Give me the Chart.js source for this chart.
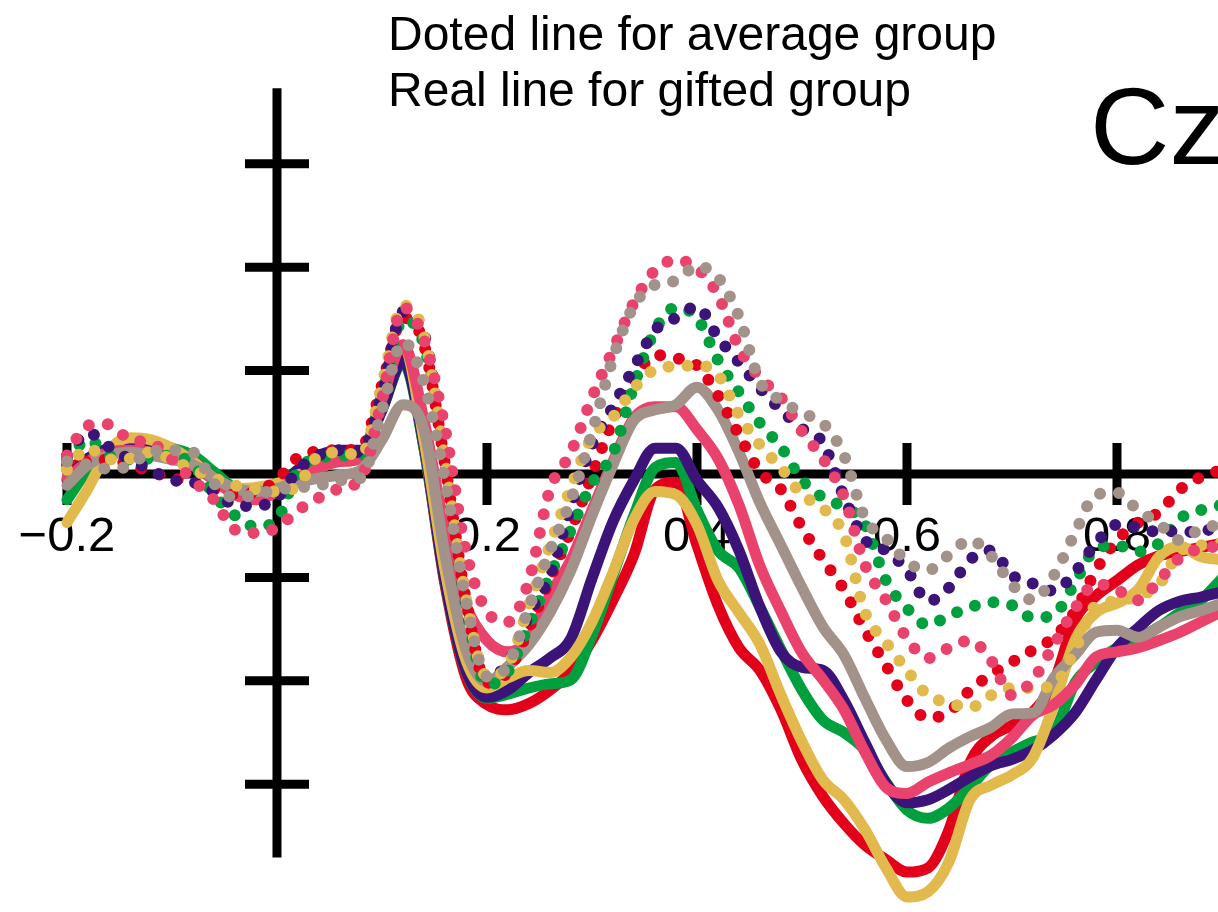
<!DOCTYPE html>
<html>
<head>
<meta charset="utf-8">
<title>Cz</title>
<script src="https://cdn.jsdelivr.net/npm/chart.js@4"></script>
<style>
  html, body { margin: 0; padding: 0; background: #fff; }
  #wrap { width: 1218px; height: 912px; }
</style>
</head>
<body>
<div id="wrap"><canvas id="czChart" width="1218" height="912"></canvas></div>
<script>
// time in s, amplitude in uV (one y tick = 1 uV)
var times = [-0.20, -0.18, -0.16, -0.14, -0.12, -0.10, -0.08, -0.06, -0.04, -0.02,
  0.00, 0.02, 0.04, 0.06, 0.08, 0.10, 0.12, 0.14, 0.16, 0.18,
  0.20, 0.22, 0.24, 0.26, 0.28, 0.30, 0.32, 0.34, 0.36, 0.38,
  0.40, 0.42, 0.44, 0.46, 0.48, 0.50, 0.52, 0.54, 0.56, 0.58,
  0.60, 0.62, 0.64, 0.66, 0.68, 0.70, 0.72, 0.74, 0.76, 0.78,
  0.80, 0.82, 0.84, 0.86, 0.88, 0.90];

// gifted group (real lines)
var giftedRed = [0.04, 0.15, 0.23, 0.25, 0.23, 0.18, 0.12, -0.04, -0.15, -0.17,
  -0.14, -0.01, 0.09, 0.15, 0.18, 0.72, 1.20, 0.25, -1.07, -1.97,
  -2.23, -2.28, -2.22, -2.09, -1.91, -1.61, -1.22, -0.78, -0.15, -0.08,
  -0.69, -1.27, -1.68, -1.90, -2.28, -2.77, -3.12, -3.38, -3.59, -3.73,
  -3.85, -3.81, -3.44, -2.79, -2.54, -2.43, -2.30, -2.01, -1.41, -1.18,
  -1.03, -0.88, -0.79, -0.75, -0.71, -0.67];
var giftedGreen = [-0.25, 0.04, 0.21, 0.28, 0.28, 0.25, 0.18, 0.02, -0.14, -0.20,
  -0.11, 0.04, 0.14, 0.18, 0.21, 0.62, 1.08, 0.25, -1.04, -1.91,
  -2.17, -2.13, -2.07, -2.03, -1.99, -1.56, -0.98, -0.40, 0.06, 0.11,
  -0.35, -0.74, -0.91, -1.29, -1.70, -2.09, -2.38, -2.50, -2.67, -2.98,
  -3.25, -3.33, -3.23, -3.03, -2.81, -2.69, -2.59, -2.50, -2.02, -1.82,
  -1.68, -1.59, -1.48, -1.34, -1.22, -1.01];
var giftedGold = [-0.47, -0.14, 0.23, 0.35, 0.33, 0.25, 0.12, -0.04, -0.14, -0.13,
  -0.09, -0.01, 0.06, 0.12, 0.15, 0.76, 1.25, 0.33, -0.93, -1.80,
  -2.07, -1.97, -1.90, -1.92, -1.77, -1.43, -0.95, -0.44, -0.17, -0.20,
  -0.49, -1.03, -1.34, -1.65, -2.14, -2.59, -2.96, -3.15, -3.44, -3.81,
  -4.09, -4.04, -3.75, -3.15, -3.01, -2.91, -2.74, -2.23, -1.61, -1.34,
  -1.25, -1.12, -0.80, -0.70, -0.80, -0.83];
var giftedPurple = [-0.06, 0.15, 0.25, 0.28, 0.25, 0.18, 0.12, -0.04, -0.17, -0.20,
  -0.14, 0.04, 0.18, 0.23, 0.23, 0.62, 1.10, 0.28, -1.03, -1.90,
  -2.16, -2.09, -1.92, -1.78, -1.59, -1.01, -0.46, -0.06, 0.25, 0.25,
  -0.06, -0.32, -0.74, -1.29, -1.72, -1.87, -1.90, -2.19, -2.60, -2.99,
  -3.18, -3.15, -3.05, -2.93, -2.82, -2.76, -2.67, -2.52, -2.31, -1.99,
  -1.68, -1.49, -1.32, -1.23, -1.19, -1.14];
var giftedPink = [-0.04, 0.12, 0.21, 0.23, 0.21, 0.15, 0.08, -0.06, -0.20, -0.25,
  -0.17, -0.04, 0.06, 0.12, 0.15, 0.72, 1.25, 0.52, -0.54, -1.27,
  -1.61, -1.72, -1.59, -1.17, -0.83, -0.35, 0.12, 0.54, 0.65, 0.65,
  0.43, 0.15, -0.30, -0.89, -1.33, -1.73, -1.99, -2.28, -2.69, -3.03,
  -3.09, -2.98, -2.89, -2.81, -2.72, -2.55, -2.33, -2.23, -2.04, -1.77,
  -1.72, -1.68, -1.61, -1.53, -1.43, -1.33];
var giftedGray = [-0.11, 0.09, 0.18, 0.21, 0.18, 0.14, 0.09, -0.04, -0.14, -0.17,
  -0.14, -0.08, -0.04, -0.01, 0.04, 0.33, 0.67, 0.43, -0.78, -1.70,
  -2.01, -1.86, -1.65, -1.34, -0.93, -0.40, 0.09, 0.52, 0.62, 0.67,
  0.84, 0.62, 0.21, -0.28, -0.69, -1.10, -1.48, -1.75, -2.17, -2.57,
  -2.83, -2.79, -2.65, -2.54, -2.45, -2.32, -2.31, -1.97, -1.75, -1.53,
  -1.51, -1.58, -1.48, -1.38, -1.32, -1.25];

// average group (dotted lines)
var averageRed = [0.09, 0.12, 0.14, 0.09, 0.02, -0.04, -0.08, -0.15, -0.20, -0.17,
  -0.06, 0.16, 0.22, 0.23, 0.25, 0.86, 1.51, 1.25, 0.09, -1.22,
  -2.02, -1.91, -1.49, -1.01, -0.54, -0.01, 0.52, 0.91, 1.15, 1.12,
  1.05, 0.76, 0.38, 0.02, -0.15, -0.52, -0.83, -1.12, -1.51, -1.85,
  -2.19, -2.36, -2.30, -2.09, -1.94, -1.82, -1.70, -1.58, -1.33, -0.93,
  -0.64, -0.47, -0.37, -0.15, -0.03, 0.04];
var averageGreen = [0.14, 0.33, 0.18, 0.14, 0.15, 0.18, 0.09, -0.20, -0.40, -0.51,
  -0.44, 0.04, 0.15, 0.18, 0.18, 0.76, 1.49, 1.25, 0.09, -1.27,
  -2.04, -1.91, -1.46, -0.98, -0.54, -0.09, 0.20, 0.86, 1.39, 1.61,
  1.51, 1.10, 0.79, 0.49, 0.26, -0.06, -0.23, -0.32, -0.49, -1.03,
  -1.30, -1.46, -1.37, -1.29, -1.24, -1.27, -1.39, -1.36, -1.05, -0.72,
  -0.69, -0.75, -0.67, -0.43, -0.35, -0.30];
var averageGold = [0.04, 0.25, 0.14, 0.15, 0.21, 0.14, 0.04, -0.04, -0.11, -0.15,
  -0.17, -0.11, 0.18, 0.21, 0.18, 0.86, 1.63, 1.34, 0.14, -1.20,
  -1.96, -1.85, -1.27, -0.69, -0.13, 0.36, 0.55, 0.83, 1.01, 1.04,
  1.05, 0.96, 0.57, 0.28, 0.06, -0.20, -0.33, -0.59, -1.34, -1.63,
  -1.90, -2.14, -2.21, -2.26, -2.14, -2.07, -2.07, -2.04, -1.70, -1.27,
  -1.23, -1.18, -1.07, -0.75, -0.69, -0.67];
var averagePurple = [0.18, 0.40, 0.26, 0.14, 0.04, -0.06, -0.08, -0.17, -0.30, -0.31,
  -0.23, 0.04, 0.18, 0.23, 0.21, 0.76, 1.57, 1.36, 0.12, -1.22,
  -1.96, -1.83, -1.36, -0.98, -0.30, 0.28, 0.65, 1.03, 1.39, 1.51,
  1.62, 1.32, 1.08, 0.83, 0.62, 0.44, 0.30, -0.22, -0.64, -0.74,
  -0.93, -1.23, -1.10, -0.83, -0.74, -0.98, -1.06, -1.13, -0.95, -0.67,
  -0.49, -0.52, -0.56, -0.55, -0.57, -0.43];
var averagePink = [0.18, 0.47, 0.48, 0.33, 0.30, 0.14, -0.06, -0.25, -0.54, -0.57,
  -0.52, -0.35, -0.23, -0.14, -0.04, 0.72, 1.61, 1.30, 0.44, -0.75,
  -1.33, -1.43, -1.03, -0.15, 0.21, 0.74, 1.20, 1.66, 1.97, 2.07,
  1.99, 1.73, 1.22, 0.93, 0.74, 0.41, 0.15, -0.22, -0.88, -1.22,
  -1.59, -1.78, -1.68, -1.61, -1.80, -2.14, -1.99, -1.65, -1.30, -1.06,
  -1.12, -1.22, -1.03, -0.81, -0.72, -0.70];
var averageGray = [0.12, 0.09, 0.05, 0.08, 0.22, 0.23, 0.21, -0.09, -0.23, -0.20,
  -0.15, -0.13, -0.11, -0.06, -0.04, 0.62, 1.28, 0.88, -0.06, -1.22,
  -1.96, -1.85, -1.29, -0.74, -0.25, 0.40, 1.12, 1.63, 1.83, 1.87,
  2.01, 1.90, 1.52, 0.89, 0.71, 0.59, 0.49, 0.18, -0.43, -0.62,
  -0.85, -0.93, -0.78, -0.64, -0.79, -1.07, -1.22, -0.98, -0.57, -0.20,
  -0.18, -0.35, -0.48, -0.64, -0.53, -0.49];

var xTicks = [-0.2, 0.2, 0.4, 0.6, 0.8];
var xTickLabels = ['\u22120.2', '0.2', '0.4', '0.6', '0.8'];
var yTicks = [-3, -2, -1, 1, 2, 3];
var noteLines = ['Doted line for average group', 'Real line for gifted group'];
var channelName = 'Cz';

var colors = {
    red: '#e3001b',
    green: '#00a03e',
    gold: '#e1b94c',
    purple: '#3c1479',
    pink: '#e9436d',
    gray: '#a2928a'
};

function toPoints(values) {
    return times.map(function (t, i) { return { x: t, y: values[i] }; });
}

function realLine(label, values, color, order) {
    return {
        label: label,
        data: toPoints(values),
        borderColor: color,
        borderWidth: 11,
        borderJoinStyle: 'round',
        borderCapStyle: 'round',
        pointRadius: 0,
        cubicInterpolationMode: 'monotone',
        fill: false,
        order: order
    };
}

function dotLine(label, values, color, order) {
    return {
        label: label,
        data: toPoints(values),
        borderColor: color,
        borderWidth: 12,
        borderDash: [0, 19],
        borderCapStyle: 'round',
        pointRadius: 0,
        cubicInterpolationMode: 'monotone',
        fill: false,
        order: order
    };
}

// black cross axes with ticks, drawn under the curves
var crossAxes = {
    id: 'crossAxes',
    beforeDatasetsDraw: function (chart) {
        var ctx = chart.ctx;
        var xs = chart.scales.x;
        var ys = chart.scales.y;
        var x0 = xs.getPixelForValue(0);
        var y0 = ys.getPixelForValue(0);
        ctx.save();
        ctx.strokeStyle = '#000';
        ctx.lineWidth = 9;
        ctx.lineCap = 'butt';
        ctx.beginPath();
        ctx.moveTo(x0, ys.getPixelForValue(3.73));
        ctx.lineTo(x0, ys.getPixelForValue(-3.71));
        ctx.moveTo(xs.getPixelForValue(-0.2) - 4, y0);
        ctx.lineTo(chart.width, y0);
        yTicks.forEach(function (v) {
            var py = ys.getPixelForValue(v);
            ctx.moveTo(x0 - 32, py);
            ctx.lineTo(x0 + 32, py);
        });
        xTicks.forEach(function (v) {
            var px = xs.getPixelForValue(v);
            ctx.moveTo(px, y0 - 31);
            ctx.lineTo(px, y0 + 31);
        });
        ctx.stroke();

        ctx.fillStyle = '#000';
        ctx.font = '49px "Liberation Sans", Arial, sans-serif';
        ctx.textAlign = 'center';
        ctx.textBaseline = 'alphabetic';
        xTicks.forEach(function (v, i) {
            ctx.fillText(xTickLabels[i], xs.getPixelForValue(v), y0 + 77);
        });
        ctx.restore();
    },
    afterDraw: function (chart) {
        var ctx = chart.ctx;
        ctx.save();
        ctx.fillStyle = '#000';
        ctx.textAlign = 'left';
        ctx.textBaseline = 'alphabetic';
        ctx.font = '48px "Liberation Sans", Arial, sans-serif';
        ctx.fillText(noteLines[0], 388, 50);
        ctx.fillText(noteLines[1], 388, 106);
        ctx.font = '110px "Liberation Sans", Arial, sans-serif';
        ctx.fillText(channelName, 1090, 164);
        ctx.restore();
    }
};

document.addEventListener('DOMContentLoaded', function () {
    var ctx = document.getElementById('czChart').getContext('2d');
    var czChart = new Chart(ctx, {
        type: 'line',
        data: {
            datasets: [
                dotLine('Average gray', averageGray, colors.gray, 0),
                dotLine('Average pink', averagePink, colors.pink, 1),
                dotLine('Average gold', averageGold, colors.gold, 2),
                dotLine('Average purple', averagePurple, colors.purple, 3),
                dotLine('Average green', averageGreen, colors.green, 4),
                dotLine('Average red', averageRed, colors.red, 5),
                realLine('Gifted gray', giftedGray, colors.gray, 6),
                realLine('Gifted pink', giftedPink, colors.pink, 7),
                realLine('Gifted gold', giftedGold, colors.gold, 8),
                realLine('Gifted purple', giftedPurple, colors.purple, 9),
                realLine('Gifted green', giftedGreen, colors.green, 10),
                realLine('Gifted red', giftedRed, colors.red, 11)
            ]
        },
        options: {
            responsive: false,
            devicePixelRatio: 1,
            animation: false,
            events: [],
            layout: { padding: 0, autoPadding: false },
            plugins: {
                legend: { display: false },
                tooltip: { enabled: false }
            },
            scales: {
                x: { type: 'linear', min: -0.2638, max: 0.8962, display: false },
                y: { type: 'linear', min: -4.236, max: 4.584, display: false }
            }
        },
        plugins: [crossAxes]
    });
});
</script>
</body>
</html>
